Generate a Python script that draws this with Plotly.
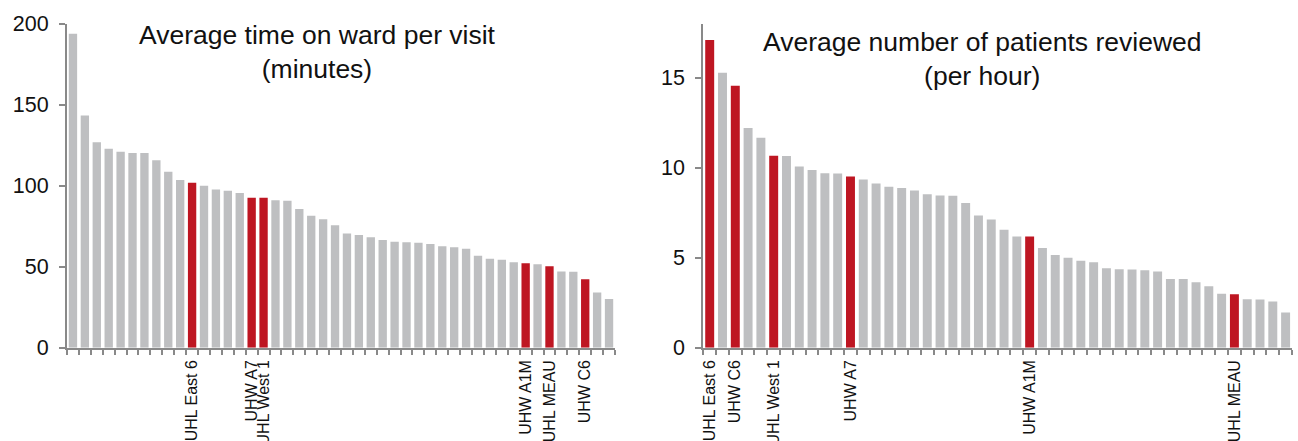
import plotly.graph_objects as go
from plotly.subplots import make_subplots

# Average time on ward per visit (minutes), sorted descending
time_values = [193.6, 143.2, 126.7, 122.8, 120.9, 120.1, 120.1, 115.6, 108.5, 103.4,
               101.7, 99.9, 97.6, 96.8, 95.4, 92.5, 92.5, 91.0, 90.6, 85.5,
               81.4, 79.3, 75.6, 70.4, 69.6, 68.2, 66.5, 65.3, 65.1, 64.7,
               63.9, 62.6, 62.0, 61.0, 56.8, 54.8, 54.2, 52.7, 52.1, 51.5,
               50.3, 47.0, 46.8, 42.2, 34.0, 30.1]
time_labels = {10: "UHL East 6", 15: "UHW A7", 16: "UHL West 1",
               38: "UHW A1M", 40: "UHL MEAU", 43: "UHW C6"}

# Average number of patients reviewed (per hour), sorted descending
patient_values = [17.08, 15.26, 14.54, 12.20, 11.66, 10.66, 10.65, 10.06, 9.87, 9.69,
                  9.67, 9.50, 9.34, 9.11, 8.93, 8.86, 8.73, 8.52, 8.45, 8.43,
                  8.03, 7.34, 7.12, 6.55, 6.18, 6.18, 5.54, 5.15, 5.00, 4.83,
                  4.74, 4.41, 4.35, 4.34, 4.30, 4.23, 3.82, 3.82, 3.63, 3.41,
                  2.99, 2.97, 2.69, 2.68, 2.56, 1.96]
patient_labels = {0: "UHL East 6", 2: "UHW C6", 5: "UHL West 1",
                  11: "UHW A7", 25: "UHW A1M", 41: "UHL MEAU"}

GREY = "#BEBFC1"
RED = "#BE1622"
AXIS = "#898989"
FONT = "Arial, Liberation Sans, sans-serif"

W, H = 1298, 441

fig = make_subplots(rows=1, cols=2)


def add_panel(col, values, labels):
    idx = list(range(len(values)))
    colors = [RED if i in labels else GREY for i in idx]
    fig.add_trace(go.Bar(x=idx, y=values, marker=dict(color=colors, line=dict(width=0)),
                         showlegend=False, hoverinfo="y"), row=1, col=col)
    fig.update_xaxes(
        range=[-0.5, len(values) - 0.5],
        tickmode="array", tickvals=list(labels.keys()), ticktext=list(labels.values()),
        tickangle=-90, ticks="", ticklabelstandoff=4,
        tickfont=dict(family=FONT, size=16, color="#111111"),
        showline=True, linecolor=AXIS, linewidth=2, showgrid=False, zeroline=False,
        minor=dict(tickmode="array", tickvals=[i - 0.5 for i in range(len(values) + 1)],
                   ticks="outside", ticklen=5, tickwidth=1.5, tickcolor=AXIS, showgrid=False),
        row=1, col=col)


add_panel(1, time_values, time_labels)
add_panel(2, patient_values, patient_labels)

ydom = [(H - 347.7) / H, (H - 23.5) / H]
fig.update_layout(
    width=W, height=H, margin=dict(l=0, r=0, t=0, b=0, autoexpand=False),
    paper_bgcolor="white", plot_bgcolor="white", bargap=0.3,
    font=dict(family=FONT, color="#111111"),
    xaxis=dict(domain=[67 / W, 615 / W], automargin=False),
    xaxis2=dict(domain=[703.3 / W, 1292 / W], automargin=False),
    yaxis=dict(domain=ydom, range=[0, 200], dtick=50, automargin=False),
    yaxis2=dict(domain=ydom, range=[0, 18], dtick=5, automargin=False),
)
fig.update_yaxes(
    ticks="outside", ticklen=6, tickwidth=1.5, tickcolor=AXIS,
    showline=True, linecolor=AXIS, linewidth=2, showgrid=False, zeroline=False,
    tickfont=dict(family=FONT, size=21.5, color="#111111"), ticklabelstandoff=6,
)

fig.add_annotation(text="Average time on ward per visit<br>(minutes)",
                   xref="paper", yref="paper", x=317 / W, y=(H - 18) / H,
                   xanchor="center", yanchor="top", showarrow=False,
                   font=dict(family=FONT, size=26.5, color="#111111"))
fig.add_annotation(text="Average number of patients reviewed<br>(per hour)",
                   xref="paper", yref="paper", x=982 / W, y=(H - 25) / H,
                   xanchor="center", yanchor="top", showarrow=False,
                   font=dict(family=FONT, size=26.5, color="#111111"))

fig.write_html("out.html")
